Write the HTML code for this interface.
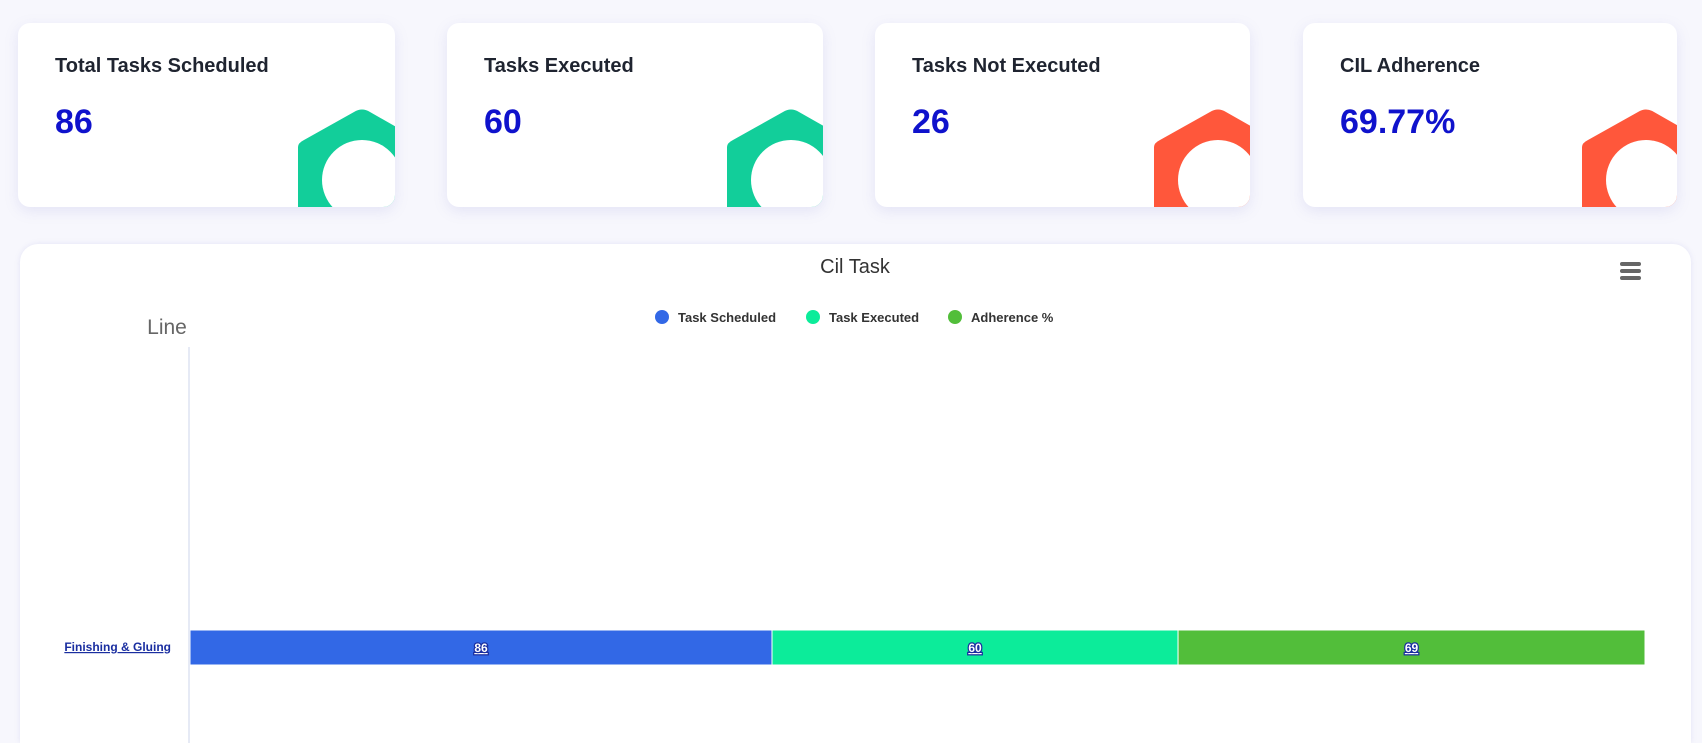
<!DOCTYPE html>
<html style="height:743px;overflow:hidden"><head><meta charset="utf-8">
<style>
html,body{margin:0;width:1702px;height:743px;overflow:hidden}
body{background:#f7f7fd;font-family:"Liberation Sans",sans-serif;position:relative}
.card{position:absolute;top:23px;height:184px;background:#fff;border-radius:12px;box-shadow:0 4px 14px rgba(120,120,200,0.15);overflow:hidden}
.card .t{position:absolute;left:37px;top:32px;font-size:20px;font-weight:bold;color:#1f2430}
.card .v{position:absolute;left:37px;top:80px;font-size:34px;font-weight:bold;color:#0f12cc}
.card svg{position:absolute;left:0;top:0}
.panel{position:absolute;left:20px;top:244px;width:1671px;height:499px;background:#fff;border-radius:18px 18px 0 0;box-shadow:0 0 6px rgba(120,120,200,0.15)}
</style></head><body>
<div class="card" style="left:18px;width:377px">
<svg width="377" height="184"><path d="M280 124 Q280 120 286 117 L336 89 Q344 84 352 89 L410 122 L410 200 L280 200 Z" fill="#12ce9a"/><circle cx="344" cy="157" r="40" fill="#fff"/></svg>
<div class="t">Total Tasks Scheduled</div><div class="v">86</div></div>
<div class="card" style="left:447px;width:376px">
<svg width="376" height="184"><path d="M280 124 Q280 120 286 117 L336 89 Q344 84 352 89 L410 122 L410 200 L280 200 Z" fill="#12ce9a"/><circle cx="344" cy="157" r="40" fill="#fff"/></svg>
<div class="t">Tasks Executed</div><div class="v">60</div></div>
<div class="card" style="left:875px;width:375px">
<svg width="375" height="184"><path d="M279 124 Q279 120 285 117 L335 89 Q343 84 351 89 L409 122 L409 200 L279 200 Z" fill="#ff573b"/><circle cx="343" cy="157" r="40" fill="#fff"/></svg>
<div class="t">Tasks Not Executed</div><div class="v">26</div></div>
<div class="card" style="left:1303px;width:374px">
<svg width="374" height="184"><path d="M279 124 Q279 120 285 117 L335 89 Q343 84 351 89 L409 122 L409 200 L279 200 Z" fill="#ff573b"/><circle cx="343" cy="157" r="40" fill="#fff"/></svg>
<div class="t">CIL Adherence</div><div class="v">69.77%</div></div>
<div class="panel"></div>
<svg id="chart" width="1702" height="743" style="position:absolute;left:0;top:0" font-family="Liberation Sans, sans-serif">
<text x="855" y="273" text-anchor="middle" font-size="20" fill="#333">Cil Task</text>
<g fill="#666"><rect x="1620" y="262" width="21" height="4" rx="2"/><rect x="1620" y="269" width="21" height="4" rx="2"/><rect x="1620" y="276" width="21" height="4" rx="2"/></g>
<text x="167" y="334" text-anchor="middle" font-size="21" fill="#666">Line</text>
<line x1="189" y1="347" x2="189" y2="743" stroke="#ccd6eb" stroke-width="1"/>
<g id="legend"></g><g id="bars"></g>
</svg>
<script>
const categories=["Finishing & Gluing"];
const seriesNames=["Task Scheduled","Task Executed","Adherence %"];
const scheduled=[86];
const executed=[60];
const adherence=[69];
const colors=["#3268e6","#0cec9a","#52be3a"];
const NS="http://www.w3.org/2000/svg";
const svg=document.getElementById('chart');
const series=[scheduled,executed,adherence];
const x0=190,x1=1645,yTop=347,yBot=947;
let maxTot=0;categories.forEach((c,i)=>{let s=0;series.forEach(a=>s+=a[i]);maxTot=Math.max(maxTot,s);});
const xs=v=>x0+v/maxTot*(x1-x0);
const band=(yBot-yTop)/categories.length;
const yc=i=>647+i*band;
const lg=document.getElementById('legend');
const lx=[662,813,955];
seriesNames.forEach((n,i)=>{
 const c=document.createElementNS(NS,'circle');c.setAttribute('cx',lx[i]);c.setAttribute('cy',317);c.setAttribute('r',7);c.setAttribute('fill',colors[i]);
 
 
 lg.appendChild(c);
 const t=document.createElementNS(NS,'text');t.setAttribute('x',lx[i]+16);t.setAttribute('y',322);t.setAttribute('font-size',13);t.setAttribute('font-weight','bold');t.setAttribute('fill','#333');t.textContent=n;
 
 
 lg.appendChild(t);
});
const bg=document.getElementById('bars');
categories.forEach((cat,i)=>{
 const l=document.createElementNS(NS,'text');l.setAttribute('x',171);l.setAttribute('y',yc(i)+4);l.setAttribute('text-anchor','end');l.setAttribute('font-size',12);l.setAttribute('font-weight','bold');l.setAttribute('fill','#1a2ea0');l.setAttribute('text-decoration','underline');l.textContent=cat;
 
 
 bg.appendChild(l);
 let acc=0;
 series.forEach((a,s)=>{
  const v=a[i];const xa=xs(acc),xb=xs(acc+v);acc+=v;
  const r=document.createElementNS(NS,'rect');r.setAttribute('x',xa);r.setAttribute('y',yc(i)-17);r.setAttribute('width',xb-xa);r.setAttribute('height',35);r.setAttribute('fill',colors[s]);r.setAttribute('stroke','#fff');r.setAttribute('stroke-width',1);
  
  
  bg.appendChild(r);
  const t=document.createElementNS(NS,'text');t.setAttribute('x',(xa+xb)/2);t.setAttribute('y',yc(i)+5);t.setAttribute('text-anchor','middle');t.setAttribute('font-size',12);t.setAttribute('font-weight','bold');t.setAttribute('fill','#fff');t.setAttribute('stroke','#1a2ea0');t.setAttribute('stroke-width',2.5);t.setAttribute('paint-order','stroke');t.setAttribute('text-decoration','underline');t.textContent=v;
  
  
  bg.appendChild(t);
 });
});
</script>
</body></html>
